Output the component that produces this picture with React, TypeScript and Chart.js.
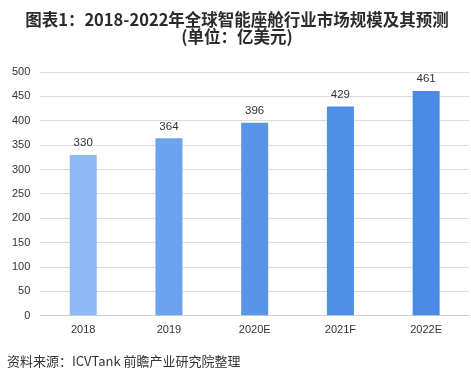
import React, { useEffect, useRef } from "react";
import { Chart, registerables } from "chart.js";

Chart.register(...registerables);

const categories = ["2018", "2019", "2020E", "2021F", "2022E"];
const marketSize = [330, 364, 396, 429, 461];
const barColors = ["#8fb9f4", "#6ca3ec", "#5895e8", "#4f8ee6", "#4a8ae4"];
const titleLines = ["图表1：2018-2022年全球智能座舱行业市场规模及其预测", "(单位：亿美元)"];
const sourceText = "资料来源：ICVTank 前瞻产业研究院整理";

const CJK = '"Noto Sans CJK SC", "Liberation Sans", sans-serif';

export default function App() {
  const ref = useRef<HTMLCanvasElement | null>(null);
  useEffect(() => {
    const canvas = ref.current;
    if (!canvas) return;
    const decor = {
      id: "decor",
      afterDraw(chart: any) {
        const ctx = chart.ctx;
        ctx.save();
        ctx.fillStyle = "#2b2b2b";
        ctx.textAlign = "center";
        ctx.textBaseline = "middle";
        ctx.font = `bold 16.5px ${CJK}`;
        ctx.fillText(titleLines[0], 237, 20);
        ctx.fillText(titleLines[1], 237, 37);
        ctx.textAlign = "left";
        ctx.font = `13px ${CJK}`;
        ctx.fillStyle = "#333333";
        ctx.fillText(sourceText, 7, 361);
        // value labels
        ctx.textAlign = "center";
        ctx.textBaseline = "bottom";
        ctx.font = `11.5px "Liberation Sans", sans-serif`;
        ctx.fillStyle = "#333333";
        const meta = chart.getDatasetMeta(0);
        meta.data.forEach((bar: any, i: number) => {
          ctx.fillText(String(marketSize[i]), bar.x, bar.y - 6);
        });
        ctx.restore();
      },
    };
    const chart = new Chart(canvas, {
      type: "bar",
      data: {
        labels: categories,
        datasets: [
          {
            data: marketSize,
            backgroundColor: barColors,
            categoryPercentage: 1,
            barPercentage: 0.315,
          },
        ],
      },
      options: {
        animation: false,
        responsive: false,
        maintainAspectRatio: false,
        layout: { padding: { top: 72, right: 2, bottom: 36, left: 2 } },
        plugins: {
          legend: { display: false },
          tooltip: { enabled: false },
          title: { display: false },
        },
        scales: {
          x: {
            grid: { display: false, drawTicks: false },
            border: { display: true, color: "#d0d0d0" },
            ticks: {
              color: "#333333",
              font: { size: 11, family: '"Liberation Sans", sans-serif' },
              padding: 8,
            },
          },
          y: {
            min: 0,
            max: 500,
            grid: { color: "#dcdcdc", drawTicks: false },
            border: { display: false },
            ticks: {
              stepSize: 50,
              color: "#333333",
              font: { size: 11, family: '"Liberation Sans", sans-serif' },
              padding: 10,
            },
          },
        },
      },
      plugins: [decor],
    });
    return () => chart.destroy();
  }, []);
  return (
    <div style={{ position: "fixed", left: 0, top: 0, width: 471, height: 381, background: "#fff" }}>
      <canvas ref={ref} width={471} height={381} style={{ width: 471, height: 381, display: "block" }} />
    </div>
  );
}
